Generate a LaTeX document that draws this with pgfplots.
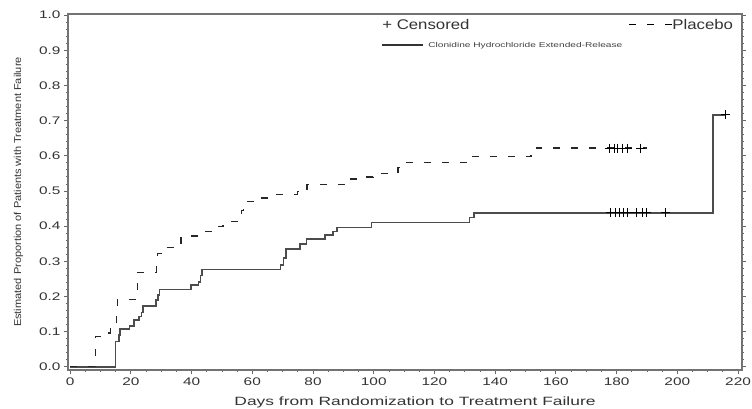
\documentclass[border=0pt]{standalone}
\usepackage{fontspec}
\setmainfont{Liberation Sans}
\newfontfamily\tickfont[FakeStretch=1.4]{Liberation Sans}
\newfontfamily\labfont[FakeStretch=1.45]{Liberation Sans}
\newfontfamily\yfont[FakeStretch=1.1]{Liberation Sans}
\newfontfamily\legfont[FakeStretch=1.2]{Liberation Sans}
\newfontfamily\tinyfont[FakeStretch=1.45]{Liberation Sans}
\usepackage{pgfplots}
\pgfplotsset{compat=1.18}

\begin{document}
\begin{tikzpicture}
\useasboundingbox (-68pt,-39pt) rectangle (684pt,370pt);
\begin{axis}[
    width=674pt, height=356pt, scale only axis,
    xmin=-0.7, xmax=221.3, ymin=-0.009, ymax=1.003,
    xtick={0,20,40,60,80,100,120,140,160,180,200,220},
    ytick={0,0.1,0.2,0.3,0.4,0.5,0.6,0.7,0.8,0.9,1.0},
    minor x tick num=3, minor y tick num=4,
    tick align=outside, xtick pos=bottom, ytick pos=both,
    yticklabel pos=left,
    major tick length=4pt, minor tick length=2pt,
    axis line style={black!55, line width=1.3pt},
    tick style={black!60, line width=0.8pt},
    ticklabel style={font=\tickfont\fontsize{11}{12}\selectfont, text=black!80},
    /pgf/number format/assume math mode=true,
    yticklabel style={/pgf/number format/.cd, fixed, fixed zerofill, precision=1},
    xlabel={Days from Randomization to Treatment Failure},
    xlabel style={font=\labfont\fontsize{12}{13}\selectfont, text=black!80, xshift=10pt},
    xlabel shift=5pt,
    ylabel={Estimated Proportion of Patients with Treatment Failure},
    ylabel style={font=\yfont\fontsize{10}{11}\selectfont, text=black!80},
    ylabel shift=9pt,
    clip=false,
]
% Clonidine hydrochloride extended-release (solid)
\addplot[const plot, black!70, line width=1.6pt] coordinates {
    (0,0) (15,0.072) (16,0.091) (16.5,0.107) (19.5,0.116) (21,0.133)
    (22.6,0.143) (23.5,0.154) (24.1,0.173) (28.3,0.19) (29,0.205)
    (29.4,0.22) (39.8,0.233) (42.3,0.242) (43,0.26) (43.5,0.277)
    (69.3,0.29) (70.3,0.309) (71.2,0.335) (75.7,0.349) (77.9,0.364)
    (83.9,0.375) (86.5,0.385) (88,0.396) (99.2,0.41) (131.5,0.425)
    (133,0.438) (211.7,0.716) (216,0.716)
};
% Placebo (dashed)
\addplot[const plot, black!85, line width=1.3pt, dash pattern=on 7pt off 11pt] coordinates {
    (0,0) (8.2,0.02) (8.3,0.05) (8.4,0.086) (11.5,0.096) (13.2,0.115)
    (15.3,0.15) (15.5,0.192) (21.9,0.22) (22.1,0.245) (22.3,0.269)
    (28.5,0.29) (28.8,0.323) (30.5,0.34) (35.6,0.347) (36.5,0.372)
    (43.8,0.384) (47,0.399) (50.4,0.413) (55.4,0.42) (56.4,0.444)
    (57.2,0.47) (60.5,0.48) (65,0.49) (75,0.498) (78,0.518) (92,0.534)
    (97.6,0.54) (99.8,0.55) (108,0.567) (110.7,0.581) (131.5,0.597)
    (151.8,0.605) (153.5,0.622) (190,0.622)
};
% censored observations
\addplot[only marks, mark=+, mark size=4.5pt, black, line width=1pt] coordinates {
    (178,0.438) (179.5,0.438) (181,0.438) (182.3,0.438) (183.6,0.438)
    (186.5,0.438) (188.5,0.438) (190,0.438) (196,0.438) (216,0.716)
};
\addplot[only marks, mark=+, mark size=4.5pt, black, line width=1pt] coordinates {
    (177.6,0.622) (179.3,0.622) (180.4,0.622) (181.8,0.622) (183.7,0.622) (188,0.622)
};
\node[anchor=west, inner sep=0pt, text=black!80, font=\legfont\fontsize{14}{15}\selectfont]
    at (axis description cs:0.466,0.970) {+ Censored};
\node[anchor=east, inner sep=0pt, text=black!80, font=\legfont\fontsize{14}{15}\selectfont]
    at (axis description cs:0.987,0.970)
    {\textcolor{black}{\rule[0.3em]{7pt}{1.3pt}\hspace{11pt}\rule[0.3em]{7pt}{1.3pt}\hspace{11pt}\rule[0.3em]{7pt}{1.3pt}}Placebo};
\node[anchor=west, inner sep=0pt, text=black!75, font=\tinyfont\fontsize{7}{8}\selectfont]
    at (axis description cs:0.466,0.910)
    {\textcolor{black!80}{\rule[0.3em]{41pt}{1.5pt}}\hspace{5pt}Clonidine Hydrochloride Extended-Release};
\end{axis}
\end{tikzpicture}
\end{document}
